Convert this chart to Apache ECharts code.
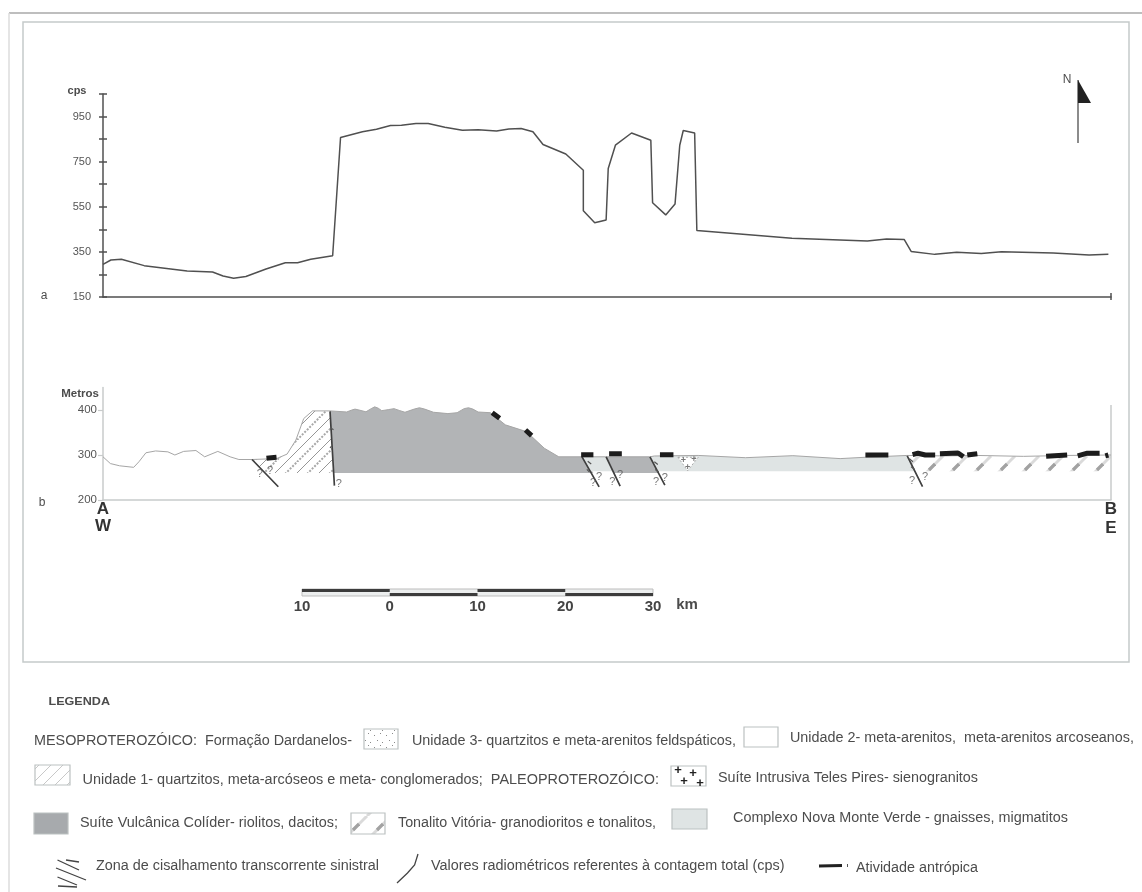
<!DOCTYPE html>
<html><head><meta charset="utf-8">
<style>html,body{margin:0;padding:0;background:#fff}#c{width:1142px;height:892px;filter:blur(0.35px)}</style>
<script src="https://cdn.jsdelivr.net/npm/echarts@6/dist/echarts.min.js"></script>
</head><body><div id="c"></div>
<script>
// ---- radiometric profile (a) : distance in km, total count in cps
const cpsKm=[0,0.9,2.1,4.7,9.6,12.5,13.7,14.9,16.3,18.6,20.8,22.2,23.7,26.2,27.1,29.6,31.2,32.8,34.05,35.7,37.1,39,41,42.8,44.9,46.3,47.7,49.05,50.2,52.8,54.8,54.8,56.1,57.4,57.64,58.46,60.3,62.5,62.7,64.2,65.26,65.8,66.2,67.5,67.75,78.6,87.2,89.4,91.4,92.2,94.9,97.4,100.2,102.5,108.4,112.5,114.7];
const cpsVal=[295,314,317,289,265,261,243,233,241,274,302,302,317,333,857,883,894,910,911,919,919,903,889,892,886,895,897,883,826,784,712,532,479,491,720,823,877,845,568,514,562,823,888,877,445,411,398,407,405,352,339,348,343,351,345,336,339];
const cpsTicks=[150,250,350,450,550,650,750,850,950,1050];
const cpsLabels=[150,350,550,750,950];
// ---- geological section (b) : distance in km, elevation in metres
const surfaceKm=[0,0.84,1.9,3.5,4.1,4.9,6,7.4,8.2,9.2,10.6,11.6,13.1,14.5,15.5,17,19.8,21,22,22.9,23.9,25.9,27.8,28.4,28.75,29.2,30,30.6,31,31.4,31.8,32.6,33.2,33.8,34.45,35.5,36.1,36.7,37.7,39.35,40.4,41.2,41.7,42.2,42.8,44.2,45.9,48.3,50.35,52,54.65,57.4,62.4,62.9,67.9,73.3,78.7,84.1,87,91.75,96,99.7,105,110,115];
const surfaceM=[296,281,276,272.6,285,305,309,307,300,308,310,296,308,296,290,290,292,302,333,381,398,398,395.6,400,402,400,396,403,407,404,398.5,401,403,399,395,402,405,402,395,392,394,403,405,402,395.5,394,367,352,315,296,296,296,296,297.8,299,294,298.5,292,295,299,298,299,297,299,300];
const unit1Km=[17,19.8,21,22,22.9,23.9,25.9,26.35,18.5];
const unit1M=[290,292,302,333,381,398,398,260,260];
const volc1Km=[25.9,27.8,28.4,28.75,29.2,30,30.6,31,31.4,31.8,32.6,33.2,33.8,34.45,35.5,36.1,36.7,37.7,39.35,40.4,41.2,41.7,42.2,42.8,44.2,45.9,48.3,50.35,52,54.65,55.95,26.35];
const volc1M=[398,395.6,400,402,400,396,403,407,404,398.5,401,403,399,395,402,405,402,395,392,394,403,405,402,395.5,394,367,352,315,296,296,260,260];
const volc2Km=[57.4,62.4,63.37,58.3];
const volc2M=[296,296,260,260];
const gneiss1Km=[54.65,57.4,58.2,55.6];
const gneiss1M=[296,296,264,264];
const gneiss2Km=[62.4,62.9,67.9,73.3,78.7,84.1,87,91.75,92.6,63.3];
const gneiss2M=[296,297.8,299,294,298.5,292,295,299,264,264];
const tonaliteKm=[91.75,96,99.7,105,110,115,115,92.6];
const tonaliteM=[299,298,299,297,299,300,264,264];
const syeniteKm=[65.6,67.9,66.7];
const syeniteM=[295,295,265];
const faultKm=[17,20,null,25.9,26.35,26.4,null,54.65,56.6,null,57.4,59,null,62.4,64.1,null,91.75,93.5];
const faultM=[290,229.5,null,397,249,232,null,296,229,null,296,231,null,296,233,null,298,229.7];
const shearKm=[55.3,55.7,null,55.2,55.5,null,62.9,63.3,null,63,63.4,null,26,26.3,null,26.1,25.9,null,92,92.4,null,92.2,92.6];
const shearM=[286,280,null,268,262,null,285,279,null,268,262,null,360,356,null,320,316,null,292,285,null,274,268];
const humanKm=[18.65,19.8,null,44.4,45.25,null,48.2,48.9,null,54.55,55.95,null,57.74,59.19,null,63.54,65.08,null,86.98,89.6,null,92.36,92.98,93.82,94.94,null,95.48,97.55,98.17,null,98.6,99.75,null,107.6,110,null,111.2,112.3,113.7,null,114.35,114.7];
const humanM=[292.6,295,null,394,381.5,null,355.5,343,null,300.7,300.7,null,303,303,null,300.7,300.7,null,300,300,null,300.7,304,300,300,null,303,304.4,296,null,300,303,null,297,300,null,298,304,304,null,298,300];
const questionKm=[17.9,19.05,26.9,55.9,56.6,58.1,59,63.1,64.1,92.3,93.8];
const questionM=[257.8,264.4,235.6,237.8,251,240,255.6,240,248.9,242,251];
const plusKm=[66.2,67.4,66.7];
const plusM=[287.4,290,272.6];
const rightEdgeKm=[115,115];
const rightEdgeM=[200,411];
const metreLabels=[200,300,400];
// ---- scale bar
const scaleTopKm=[-10,0,null,10,20];
const scaleBottomKm=[0,10,null,20,30];

const GREY='#505050', LIGHT='#c8cbcb', FONT='"Liberation Sans",Arial,sans-serif';
const zip=(a,b)=>a.map((v,i)=>v===null?['-','-']:[v,b[i]]);

function tile(size,draw){const c=document.createElement('canvas');c.width=c.height=size;const g=c.getContext('2d');g.fillStyle='#fff';g.fillRect(0,0,size,size);draw(g,size);return {type:'pattern',image:c,repeat:'repeat'};}
function diag(g,s,off){ // 45-degree line, wrapping round the tile
  for(const d of [-s,0,s]){g.beginPath();g.moveTo(d+off,s);g.lineTo(d+off+s,0);g.stroke();}
}
const unit1Fill=tile(22,(g,s)=>{g.strokeStyle='#8a8a8a';g.lineWidth=0.9;diag(g,s,0);g.setLineDash([2,1.5]);g.lineWidth=2;g.strokeStyle='#a8a8a8';diag(g,s,11);g.setLineDash([]);});
const tonaliteFill=tile(24,(g,s)=>{g.strokeStyle='#dadada';g.lineWidth=3;diag(g,s,7);g.strokeStyle='#a2a2a2';g.lineWidth=3.2;g.beginPath();g.moveTo(17,14);g.lineTo(23,8);g.stroke();});
const dotFill=tile(12,(g,s)=>{g.fillStyle='#8a8a8a';g.fillRect(2,3,1,1);g.fillRect(8,1,1,1);g.fillRect(5,8,1,1);g.fillRect(10,10,1,1);});
const legendHatch=tile(12,(g,s)=>{g.strokeStyle='#c8c8c8';g.lineWidth=1;diag(g,s,0);});

function polygonSeries(name,xs,ys,fill,extra){
  const pts=zip(xs,ys);
  return {type:'custom',name,xAxisIndex:1,yAxisIndex:2,silent:true,z:(extra&&extra.z)||2,data:pts,
    renderItem(p,api){ if(p.dataIndex!==0) return null;
      return {type:'polygon',shape:{points:pts.map(q=>api.coord(q))},style:Object.assign({fill,stroke:null},extra&&extra.style)};}};
}
function lineSeries(name,xs,ys,color,width,xi,yi,z){
  return {type:'line',name,xAxisIndex:xi,yAxisIndex:yi,data:zip(xs,ys),symbol:'none',silent:true,z:z||3,lineStyle:{color,width},connectNulls:false};
}
function marks(name,xs,ys,text,size,bold){
  return {type:'scatter',name,xAxisIndex:1,yAxisIndex:2,silent:true,z:6,symbolSize:1,itemStyle:{color:'transparent'},
    data:zip(xs,ys),label:{show:true,position:'inside',formatter:text,fontFamily:FONT,fontSize:size,fontWeight:bold?'bold':'normal',color:'#555'}};
}

// ---- text fitted to a measured width
const ctx=document.createElement('canvas').getContext('2d');
function fit(text,x0,x1,y,size,opt){opt=opt||{};const w=opt.bold?'bold ':'';const font=w+size+'px '+FONT;ctx.font=font;
  return {type:'text',x:x0,y:y,scaleX:(x1-x0)/ctx.measureText(text).width,z:10,silent:true,style:{text,font,fill:opt.color||'#4c4c4c',verticalAlign:'middle',align:'left'}};}
function label(text,x,y,size,opt){opt=opt||{};return {type:'text',x,y,z:10,silent:true,style:{text,font:(opt.bold?'bold ':'')+size+'px '+FONT,fill:opt.color||'#4c4c4c',align:opt.align||'center',verticalAlign:'middle'}};}
const ln=(x1,y1,x2,y2,color,w)=>({type:'line',silent:true,z:9,shape:{x1,y1,x2,y2},style:{stroke:color,lineWidth:w}});
const box=(x,y,w,h,fill)=>({type:'rect',silent:true,z:9,shape:{x,y,width:w,height:h},style:{fill,stroke:'#bcc1c1',lineWidth:1.2}});

const graphic=[
  ln(9,13,1142,13,'#a9a9a9',1.5), ln(9,13,9,892,'#dcdcdc',1.5),
  {type:'rect',silent:true,z:9,shape:{x:23,y:22,width:1106,height:640},style:{fill:null,stroke:'#c5caca',lineWidth:1.5}},
  // north arrow
  ln(1078,80,1078,143,'#666',1.5),
  {type:'polygon',silent:true,z:9,shape:{points:[[1078,80],[1091,103],[1078,103]]},style:{fill:'#222'}},
  label('N',1067,80,12),
  label('cps',77,91,11,{bold:true}), label('a',44,296,12), label('b',42,503,12),
  label('Metros',80,394,11.5,{bold:true}),
  ln(1111,293,1111,300,GREY,1.5),
  label('A',103,509,17,{bold:true,color:'#333'}), label('W',103,526,17,{bold:true,color:'#333'}),
  label('B',1111,509,17,{bold:true,color:'#333'}), label('E',1111,528,17,{bold:true,color:'#333'}),
  label('km',687,605,15,{bold:true}),
  // legend
  fit('LEGENDA',48.5,110,702,11,{bold:true}),
  fit('MESOPROTEROZÓICO:  Formação Dardanelos-',34,352,741,14),
  box(364,729,34,20,dotFill),
  fit('Unidade 3- quartzitos e meta-arenitos feldspáticos,',412,736,741,14),
  box(744,727,34,20,'#fff'),
  fit('Unidade 2- meta-arenitos,  meta-arenitos arcoseanos,',790,1134,738,14),
  box(35,765,35,20,legendHatch),
  fit('Unidade 1- quartzitos, meta-arcóseos e meta- conglomerados;  PALEOPROTEROZÓICO:',82.5,659,780,14),
  box(671,766,35,20,'#fff'),
  label('+',678,770,13,{bold:true,color:'#222'}),label('+',693,773,13,{bold:true,color:'#222'}),label('+',684,781,13,{bold:true,color:'#222'}),label('+',700,783,13,{bold:true,color:'#222'}),
  fit('Suíte Intrusiva Teles Pires- sienogranitos',718,978,778,14),
  box(34,813,34,21,'#a7aaad'),
  fit('Suíte Vulcânica Colíder- riolitos, dacitos;',80,338,823,14),
  box(351,813,34,21,tonaliteFill),
  fit('Tonalito Vitória- granodioritos e tonalitos,',398,656,823,14),
  box(672,809,35,20,'#dfe4e4'),
  fit('Complexo Nova Monte Verde - gnaisses, migmatitos',733,1068,818,14),
  ln(57.5,860,79,870,'#444',1.3), ln(56,868,86,880,'#444',1.3), ln(57.5,877,77,885,'#444',1.3),
  ln(66,860,79,862,'#444',1.5), ln(58,886,77,887,'#444',1.5),
  fit('Zona de cisalhamento transcorrente sinistral',96,379,866,14),
  {type:'polyline',silent:true,z:9,shape:{points:[[397,883],[407.5,873],[414.6,865],[418,854]]},style:{stroke:'#444',lineWidth:1.3,fill:null}},
  fit('Valores radiométricos referentes à contagem total (cps)',431,784.5,866,14),
  ln(819,866,842,865.5,'#222',3), ln(847.5,864,847.5,867,'#555',1),
  fit('Atividade antrópica',856,978,868,14)
];

const base={animation:false,backgroundColor:'#fff',graphic,
 grid:[
  {left:103,width:1008,top:94,height:203},
  {left:103,width:1008,top:387.5,height:112.5},
  {left:302,width:351,top:589,height:7,show:true,backgroundColor:'#eceeee',borderColor:'#bdbdbd',borderWidth:1}
 ],
 xAxis:[
  {type:'value',gridIndex:0,min:0,max:115,splitLine:{show:false},axisLabel:{show:false},axisLine:{lineStyle:{color:GREY,width:1.5}},axisTick:{show:false}},
  {type:'value',gridIndex:1,min:0,max:115,splitLine:{show:false},axisLabel:{show:false},axisTick:{show:false},axisLine:{lineStyle:{color:LIGHT,width:1.5}}},
  {type:'value',gridIndex:2,min:-10,max:30,interval:10,splitLine:{show:false},axisTick:{show:false},axisLine:{show:false},
   axisLabel:{margin:3,formatter:v=>String(Math.abs(v)),fontFamily:FONT,fontWeight:'bold',fontSize:15,color:'#444',showMinLabel:true,showMaxLabel:true}}
 ],
 yAxis:[
  {type:'value',gridIndex:0,min:150,max:1050,splitLine:{show:false},axisLine:{show:true,lineStyle:{color:GREY,width:1.5}},
   axisTick:{show:true,customValues:cpsTicks,length:4,lineStyle:{color:GREY,width:1.5}},
   axisLabel:{customValues:cpsLabels,margin:12,fontFamily:FONT,fontSize:11,color:'#555'}},
  {type:'value',gridIndex:0,min:150,max:1050,splitLine:{show:false},axisLine:{show:false},axisLabel:{show:false},
   axisTick:{show:true,inside:true,customValues:cpsTicks,length:4,lineStyle:{color:GREY,width:1.5}},position:'left'},
  {type:'value',gridIndex:1,min:200,max:450,splitLine:{show:false},axisLine:{show:true,lineStyle:{color:LIGHT,width:1.5}},
   axisTick:{show:true,customValues:metreLabels,length:5,lineStyle:{color:LIGHT,width:1.2}},
   axisLabel:{customValues:metreLabels,margin:6,fontFamily:FONT,fontSize:11.5,color:'#555'}},
  {type:'value',gridIndex:2,min:0,max:1,show:false}
 ],
 series:[
  lineSeries('Valores radiométricos',cpsKm,cpsVal,'#505050',1.5,0,0),
  polygonSeries('Unidade 1',unit1Km,unit1M,unit1Fill),
  polygonSeries('Suíte Vulcânica Colíder oeste',volc1Km,volc1M,'#b2b4b6'),
  polygonSeries('Complexo Nova Monte Verde 1',gneiss1Km,gneiss1M,'#dfe4e4'),
  polygonSeries('Suíte Vulcânica Colíder leste',volc2Km,volc2M,'#b2b4b6'),
  polygonSeries('Complexo Nova Monte Verde 2',gneiss2Km,gneiss2M,'#dfe4e4'),
  polygonSeries('Tonalito Vitória',tonaliteKm,tonaliteM,tonaliteFill),
  polygonSeries('Suíte Intrusiva Teles Pires',syeniteKm,syeniteM,'#fff',{z:3,style:{stroke:'#999',lineWidth:0.8,lineDash:[2,2]}}),
  lineSeries('Superfície',surfaceKm,surfaceM,'#a6a6a6',1,1,2,4),
  lineSeries('Borda direita',rightEdgeKm,rightEdgeM,LIGHT,1.5,1,2,3),
  lineSeries('Zonas de cisalhamento',faultKm,faultM,'#3f3f3f',1.7,1,2,5),
  lineSeries('Indicadores',shearKm,shearM,'#555',1.2,1,2,5),
  lineSeries('Atividade antrópica',humanKm,humanM,'#1c1c1c',5,1,2,6),
  marks('Interrogações',questionKm,questionM,'?',11),
  marks('Cruzes',plusKm,plusM,'+',9,true),
  lineSeries('Escala superior',scaleTopKm,scaleTopKm.map(v=>v===null?null:0.8),'#3c3c3c',3,2,3),
  lineSeries('Escala inferior',scaleBottomKm,scaleBottomKm.map(v=>v===null?null:0.2),'#3c3c3c',3,2,3)
 ]};
const chart=echarts.init(document.getElementById('c'),null,{renderer:'canvas',width:1142,height:892});
chart.setOption(base);
</script></body></html>
